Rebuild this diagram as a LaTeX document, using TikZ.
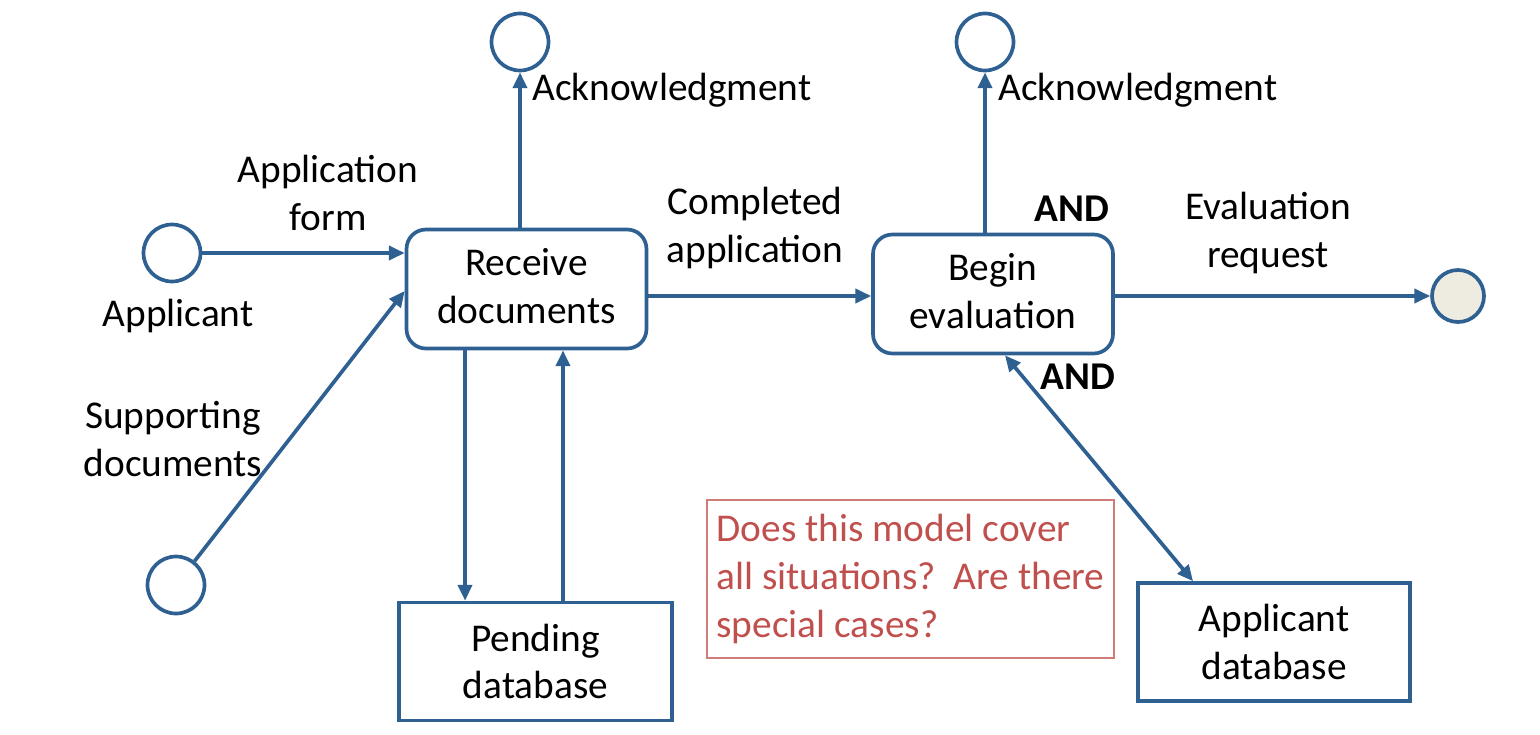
\documentclass[tikz,border=0pt]{standalone}
\usepackage{fontspec}
\setmainfont{Carlito}
\usetikzlibrary{arrows.meta,positioning}
\definecolor{flowblue}{RGB}{46,96,146}
\definecolor{notered}{RGB}{192,80,77}
\definecolor{endgray}{RGB}{238,236,225}
\tikzset{
	proc/.style={draw=flowblue, line width=2.1pt, rounded corners=11pt, align=center,
		minimum width=4.8cm, minimum height=2.38cm},
	store/.style={draw=flowblue, line width=2.1pt, align=center,
		minimum width=5.45cm, minimum height=2.36cm},
	ext/.style={draw=flowblue, line width=2.1pt, circle, minimum size=1.14cm, inner sep=0pt},
	flow/.style={draw=flowblue, line width=2.1pt, -{Triangle[length=9pt, width=8pt]}},
	lbl/.style={align=center, inner sep=0pt}
}
\begin{document}
\begin{tikzpicture}[x=0.02cm, y=-0.02cm, font=\fontsize{22.4}{27.2}\selectfont]
		\useasboundingbox (0,0) rectangle (1540,734);
		
		\node[proc] (recv) at (526.5,289) {Receive\\documents\vphantom{g}};
		\node[proc] (begin) at (993,294) {Begin\\evaluation\vphantom{g}};
		\node[store] (pend) at (535.5,661.5) {Pending\\database};
		\node[store] (appdb) at (1274,642) {Applicant\\database};
		
		\node[ext] (applicant) at (172,253) {};
		\node[ext] (support) at (176,585) {};
		\node[ext] (ack1) at (520,42) {};
		\node[ext] (ack2) at (985,42) {};
		\node[ext, fill=endgray, minimum size=1.04cm] (done) at (1458,296) {};
		
		\node[draw=notered!75, line width=0.9pt, text=notered, align=left,
			minimum width=8.14cm, minimum height=3.16cm] (note) at (910.5,579)
			{Does this model cover\\all situations?\ \ Are there\\special cases?};
		
		% labels
		\node[lbl] (formlbl) at (328,193) {Application\\form};
		\node[lbl] (applbl) at (178,316) {Applicant};
		\node[lbl] (suplbl) at (173,439) {Supporting\\documents};
		\node[lbl, anchor=west] (acklbl1) at (532,90) {Acknowledgment};
		\node[lbl, anchor=west] (acklbl2) at (998,90) {Acknowledgment};
		\node[lbl] (complbl) at (755,228) {Completed\\application};
		\node[lbl, font=\fontsize{22.4}{27.2}\selectfont\bfseries] (and1) at (1072,209) {AND};
		\node[lbl, font=\fontsize{22.4}{27.2}\selectfont\bfseries] (and2) at (1078,377) {AND};
		\node[lbl] (evallbl) at (1268,233) {Evaluation\\request};
		
		% connectors
		\draw[flow] (applicant) -- (applicant -| recv.west);
		\draw[flow] (support) -- ([yshift=-0.04cm]recv.west);
		\draw[flow] (recv.north -| ack1.south) -- (ack1.south);
		\draw[flow] ([xshift=-1.23cm]recv.south) -- ([xshift=-1.23cm]recv.south |- pend.north);
		\draw[flow] ([xshift=0.55cm]pend.north) -- ([xshift=0.55cm]pend.north |- recv.south);
		\draw[flow] (recv.east |- done) -- (begin.west |- done);
		\draw[flow] (begin.north -| ack2.south) -- (ack2.south);
		\draw[flow] (begin.east |- done) -- (done);
		\draw[flow, {Triangle[length=9pt, width=8pt]}-{Triangle[length=9pt, width=8pt]}]
			([xshift=0.24cm]begin.south) -- ([xshift=-1.62cm]appdb.north);
		
	\end{tikzpicture}
\end{document}
